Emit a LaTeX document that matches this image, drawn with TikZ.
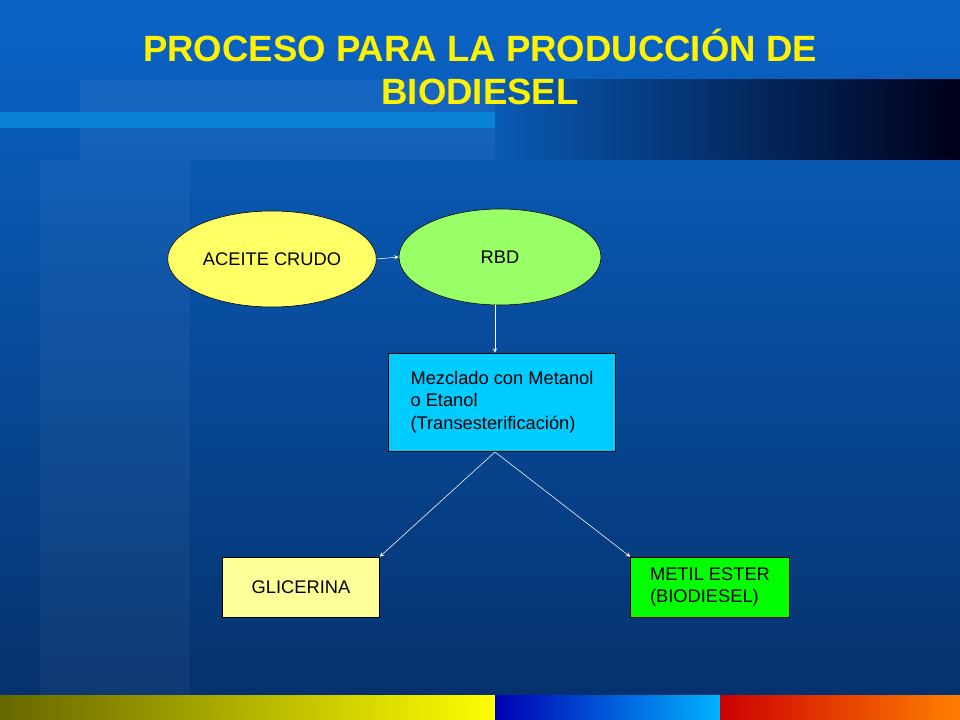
\documentclass[tikz,border=0pt]{standalone}
\usepackage{fontspec}
\setmainfont{Liberation Sans}
\usetikzlibrary{shapes.geometric}
\definecolor{bgtop}{HTML}{0A64C8}
\definecolor{bgbot}{HTML}{05306A}
\definecolor{oilyellow}{HTML}{FFFF66}
\definecolor{rbdgreen}{HTML}{99FF66}
\definecolor{mixcyan}{HTML}{00CCFF}
\definecolor{glipale}{HTML}{FFFF99}
\definecolor{estergreen}{HTML}{00FF00}
\tikzset{
  stage/.style={ellipse,draw=black,minimum width=200\px,minimum height=96\px,font=\fontsize{13}{15}\selectfont},
  stepbox/.style={rectangle,draw=black,font=\fontsize{13}{16}\selectfont,align=left,inner sep=3pt},
  flow/.style={->,white,>=stealth}
}
\newlength{\px}\setlength{\px}{0.025cm}
\begin{document}
\begin{tikzpicture}[x=0.025cm,y=-0.025cm]
% background
\shade[top color=bgtop,bottom color=bgbot] (0,0) rectangle (960,720);
\fill[white,opacity=0.04] (40,160) rectangle (190,695);
\fill[white,opacity=0.05] (80,80) rectangle (495,160);
\fill[bgtop!80!cyan] (0,112) rectangle (495,128);
\shade[left color=bgtop!90!black,right color=black!90!blue] (495,80) rectangle (960,160);
\shade[left color=olive!80!black,right color=yellow] (0,695) rectangle (495,720);
\shade[left color=blue!70!black,right color=cyan!70!blue] (495,695) rectangle (720,720);
\shade[left color=red!80!black,right color=orange] (720,695) rectangle (960,720);
% title
\node[text=yellow,font=\bfseries\fontsize{26}{30}\selectfont,align=center] (title) at (480,67)
  {PROCESO PARA LA PRODUCCIÓN DE\\BIODIESEL};
% nodes
\node[stage,fill=oilyellow] (oil) at (272,259) {ACEITE CRUDO};
\node[stage,fill=rbdgreen,minimum width=202\px] (rbd) at (500,257) {RBD};
\node[stepbox,fill=mixcyan,minimum width=227\px,minimum height=98\px] (mix) at (502,402)
  {Mezclado con Metanol\\o Etanol\\(Transesterificación)};
\node[stepbox,fill=glipale,minimum width=157\px,minimum height=60\px,align=center] (gli) at (301,587) {GLICERINA};
\node[stepbox,fill=estergreen,minimum width=159\px,minimum height=60\px] (ester) at (710,587) {METIL ESTER\\(BIODIESEL)};
% connectors
\draw[flow] (oil.east) -- (rbd.west);
\draw[flow] (rbd.south -| 495,0) -- (mix.north -| 495,0);
\coordinate (split) at (495,452);
\draw[flow] (split) -- (gli.north east);
\draw[flow] (split) -- (ester.north west);
\end{tikzpicture}
\end{document}
